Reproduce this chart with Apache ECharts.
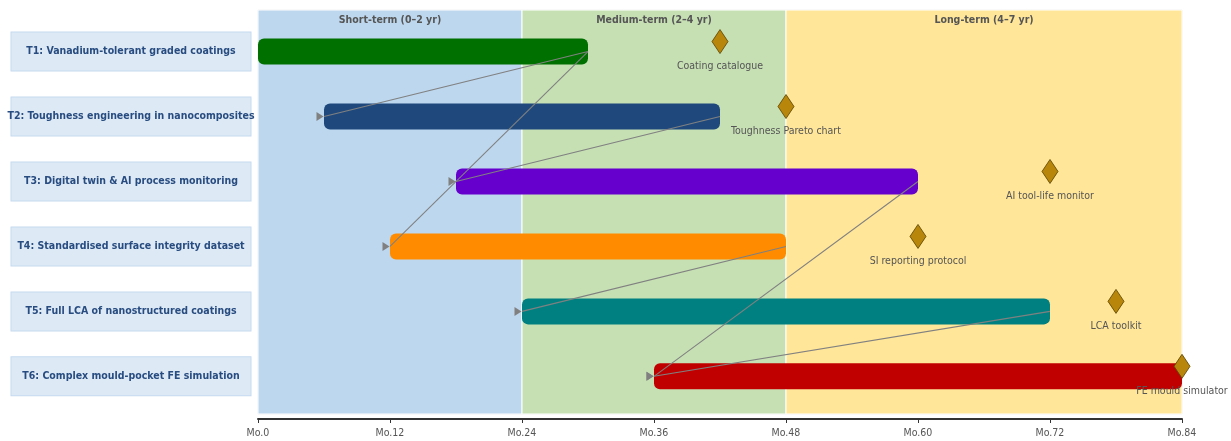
<!DOCTYPE html>
<html>
<head>
<meta charset="utf-8">
<script src="https://cdn.jsdelivr.net/npm/echarts@6/dist/echarts.min.js"></script>
<style>
  html, body { margin: 0; padding: 0; background: #fff; }
  #roadmap { width: 1231px; height: 441px; }
</style>
</head>
<body>
<div id="roadmap"></div>
<script>
// tasks (rows, top to bottom) and their span in months
var tasks = [
    'T1: Vanadium-tolerant graded coatings',
    'T2: Toughness engineering in nanocomposites',
    'T3: Digital twin & AI process monitoring',
    'T4: Standardised surface integrity dataset',
    'T5: Full LCA of nanostructured coatings',
    'T6: Complex mould-pocket FE simulation'
];
var taskStart = [0, 6, 18, 12, 24, 36];
var taskEnd = [30, 42, 60, 48, 72, 84];

// one milestone per task
var milestoneNames = ['Coating catalogue', 'Toughness Pareto chart', 'AI tool-life monitor',
    'SI reporting protocol', 'LCA toolkit', 'FE mould simulator'];
var milestoneMonth = [42, 48, 72, 60, 78, 84];

// [from task, to task]
var dependencies = [[0, 1], [0, 3], [1, 2], [2, 5], [3, 4], [4, 5]];

var phases = ['Short-term (0\u20132 yr)', 'Medium-term (2\u20134 yr)', 'Long-term (4\u20137 yr)'];
var phaseBounds = [0, 24, 48, 84];

// styles
var taskColors = ['#007000', '#1f497d', '#6600cc', '#ff8c00', '#008080', '#c00000'];
var phaseColors = ['#bdd7ee', '#c6e0b4', '#ffe699'];

var yMin = -0.64, yMax = 5.58;
var FONT = "'DejaVu Sans Condensed', 'DejaVu Sans'";

var myChart = echarts.init(document.getElementById('roadmap'));

var barData = [];
for (var i = 0; i < tasks.length; i++) {
    barData.push([taskStart[i], taskEnd[i], i]);
}

var phaseAreas = [];
for (var p = 0; p < phases.length; p++) {
    phaseAreas.push([
        { name: phases[p], xAxis: phaseBounds[p], yAxis: yMin, itemStyle: { color: phaseColors[p] } },
        { xAxis: phaseBounds[p + 1], yAxis: yMax }
    ]);
}

var depLines = [];
var depHeads = [];
for (var d = 0; d < dependencies.length; d++) {
    var a = dependencies[d][0], b = dependencies[d][1];
    depLines.push({ coords: [[taskEnd[a], a], [taskStart[b], b]] });
    depHeads.push([taskStart[b], b]);
}

var milestoneData = [];
for (var m = 0; m < milestoneNames.length; m++) {
    milestoneData.push({ name: milestoneNames[m], value: [milestoneMonth[m], m] });
}

myChart.setOption({
    animation: false,
    backgroundColor: '#ffffff',
    textStyle: { fontFamily: FONT },
    grid: {
        left: 258, right: 49, top: 10, bottom: 27,
        outerBoundsMode: 'none', containLabel: false,
        show: true, borderColor: '#e6e6e6', borderWidth: 1, backgroundColor: 'transparent'
    },
    xAxis: {
        type: 'value',
        min: 0,
        max: 84,
        interval: 12,
        offset: 5,
        axisLine: { show: true, onZero: false, lineStyle: { color: '#333', width: 2 } },
        axisTick: { show: true, length: 4, lineStyle: { color: '#333' } },
        axisLabel: {
            color: '#555',
            fontFamily: FONT,
            fontSize: 10.5,
            margin: 9,
            formatter: function (v) { return 'Mo.' + v; }
        },
        splitLine: { show: false }
    },
    yAxis: {
        type: 'value',
        inverse: true,
        min: yMin,
        max: yMax,
        axisLine: { show: false },
        axisTick: { show: false },
        splitLine: { show: false },
        axisLabel: {
            customValues: [0, 1, 2, 3, 4, 5],
            formatter: function (v) { return tasks[v]; },
            align: 'center',
            margin: 127,
            width: 239,
            height: 38,
            lineHeight: 38,
            overflow: 'none',
            fontFamily: FONT,
            fontSize: 10.5,
            fontWeight: 'bold',
            color: '#284c80',
            backgroundColor: '#ddeaf6',
            borderColor: '#c5daf0',
            borderWidth: 1
        }
    },
    series: [{
        // gantt bars + phase backgrounds
        type: 'custom',
        z: 2,
        renderItem: function (params, api) {
            var s = api.coord([api.value(0), api.value(2)]);
            var e = api.coord([api.value(1), api.value(2)]);
            var h = 26;
            return {
                type: 'rect',
                shape: { x: s[0], y: s[1] - h / 2, width: e[0] - s[0], height: h, r: 6 },
                style: { fill: taskColors[params.dataIndex] }
            };
        },
        encode: { x: [0, 1], y: 2 },
        data: barData,
        markArea: {
            silent: true,
            itemStyle: { borderColor: '#ffffff', borderWidth: 1, opacity: 1 },
            label: {
                show: true,
                position: 'insideTop',
                distance: 5,
                color: '#555',
                fontFamily: FONT,
                fontSize: 10.5,
                fontWeight: 'bold'
            },
            data: phaseAreas
        }
    }, {
        // dependency links
        type: 'lines',
        coordinateSystem: 'cartesian2d',
        z: 3,
        symbol: ['none', 'none'],
        lineStyle: { color: '#808080', width: 1.1, opacity: 1, curveness: 0 },
        data: depLines
    }, {
        // arrow heads at successor start
        type: 'scatter',
        z: 4,
        symbol: 'triangle',
        symbolSize: [9, 7],
        symbolRotate: -90,
        symbolOffset: [-4, 0],
        itemStyle: { color: '#808080', opacity: 1 },
        data: depHeads
    }, {
        // milestones
        type: 'scatter',
        z: 5,
        symbol: 'diamond',
        symbolSize: [16, 24],
        symbolOffset: [0, -10],
        itemStyle: { color: '#b8860b', borderColor: '#5a4200', borderWidth: 0.8, opacity: 1 },
        label: {
            show: true,
            position: 'bottom',
            distance: 7,
            color: '#555',
            fontFamily: FONT,
            fontSize: 10.5,
            formatter: '{b}'
        },
        data: milestoneData
    }]
});
</script>
</body>
</html>
